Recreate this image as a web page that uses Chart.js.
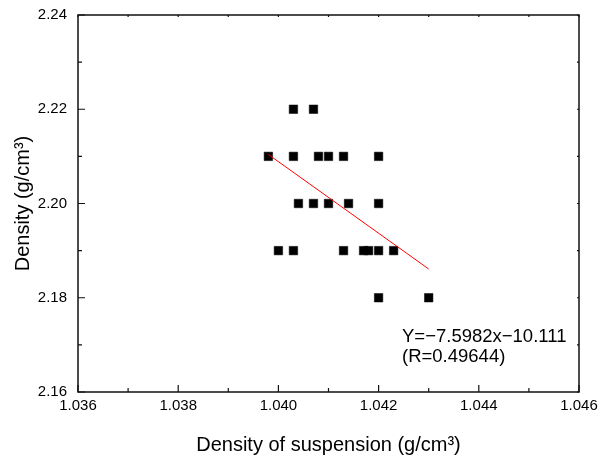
<!DOCTYPE html>
<html>
<head>
<meta charset="utf-8">
<script src="https://cdn.jsdelivr.net/npm/chart.js@4.4.1/dist/chart.umd.min.js"></script>
<style>
  html, body { margin: 0; padding: 0; background: #fff; }
  #wrap { width: 609px; height: 460px; }
</style>
</head>
<body>
<div id="wrap"><canvas id="chart" width="609" height="460"></canvas></div>
<script>
// measured points (density of suspension vs. density)
const suspension = [
    1.0403, 1.0407,
    1.0398, 1.0403, 1.0408, 1.0410, 1.0413, 1.0420,
    1.0404, 1.0407, 1.0410, 1.0414, 1.0420,
    1.0400, 1.0403, 1.0413, 1.0417, 1.0418, 1.0420, 1.0423,
    1.0420, 1.0430
];
const density = [
    2.22, 2.22,
    2.21, 2.21, 2.21, 2.21, 2.21, 2.21,
    2.20, 2.20, 2.20, 2.20, 2.20,
    2.19, 2.19, 2.19, 2.19, 2.19, 2.19, 2.19,
    2.18, 2.18
];

// linear fit end points
const fitX = [1.0398, 1.0430];
const fitY = [2.2104, 2.1861];

// tick labels
const xTicks = [1.036, 1.038, 1.040, 1.042, 1.044, 1.046];
const yTicks = [2.16, 2.18, 2.20, 2.22, 2.24];

const fitText = ['Y=\u22127.5982x\u221210.111', '(R=0.49644)'];

const FONT = "'Liberation Sans', Arial, sans-serif";

// box frame, inward ticks and the fit annotation
const framePlugin = {
    id: 'frame',
    afterDraw(chart) {
        const ctx = chart.ctx;
        const a = chart.chartArea;
        const xs = chart.scales.x, ys = chart.scales.y;
        ctx.save();
        ctx.strokeStyle = '#111';
        ctx.lineWidth = 1.5;
        ctx.strokeRect(a.left, a.top, a.right - a.left, a.bottom - a.top);

        ctx.lineWidth = 1.2;
        ctx.beginPath();
        xTicks.forEach((v, i) => {
            const px = xs.getPixelForValue(v);
            ctx.moveTo(px, a.bottom); ctx.lineTo(px, a.bottom - 7);
            ctx.moveTo(px, a.top); ctx.lineTo(px, a.top + 2);
            if (i < xTicks.length - 1) {
                const mx = xs.getPixelForValue((v + xTicks[i + 1]) / 2);
                ctx.moveTo(mx, a.bottom); ctx.lineTo(mx, a.bottom - 4);
                ctx.moveTo(mx, a.top); ctx.lineTo(mx, a.top + 2);
            }
        });
        yTicks.forEach((v, i) => {
            const py = ys.getPixelForValue(v);
            ctx.moveTo(a.left, py); ctx.lineTo(a.left + 7, py);
            ctx.moveTo(a.right, py); ctx.lineTo(a.right - 2, py);
            if (i < yTicks.length - 1) {
                const my = ys.getPixelForValue((v + yTicks[i + 1]) / 2);
                ctx.moveTo(a.left, my); ctx.lineTo(a.left + 4, my);
                ctx.moveTo(a.right, my); ctx.lineTo(a.right - 2, my);
            }
        });
        ctx.stroke();

        ctx.fillStyle = '#000';
        ctx.font = '18.5px ' + FONT;
        ctx.textAlign = 'left';
        ctx.textBaseline = 'alphabetic';
        ctx.fillText(fitText[0], 402, 342);
        ctx.fillText(fitText[1], 402, 362);
        ctx.restore();
    }
};

new Chart(document.getElementById('chart'), {
    type: 'scatter',
    data: {
        datasets: [{
            type: 'line',
            data: fitX.map((x, i) => ({ x: x, y: fitY[i] })),
            borderColor: '#ff0000',
            borderWidth: 1,
            pointRadius: 0,
            fill: false,
            order: 0
        }, {
            data: suspension.map((x, i) => ({ x: x, y: density[i] })),
            pointStyle: 'rect',
            pointRadius: 6,
            pointBackgroundColor: '#000',
            pointBorderColor: '#000',
            pointBorderWidth: 0.5,
            order: 1
        }]
    },
    options: {
        responsive: false,
        animation: false,
        layout: { padding: { top: 15, right: 30, left: 0, bottom: 0 } },
        plugins: {
            legend: { display: false },
            tooltip: { enabled: false }
        },
        scales: {
            x: {
                type: 'linear',
                min: 1.036,
                max: 1.046,
                afterBuildTicks: s => { s.ticks = xTicks.map(v => ({ value: v })); },
                afterFit: s => { s.height = 68; s.paddingLeft = 0; s.paddingRight = 0; },
                grid: { display: false, drawTicks: false },
                border: { display: false },
                ticks: {
                    padding: 5,
                    color: '#000',
                    font: { family: FONT, size: 15 },
                    callback: v => v.toFixed(3)
                },
                title: {
                    display: true,
                    text: 'Density of suspension (g/cm\u00b3)',
                    color: '#000',
                    font: { family: FONT, size: 20 },
                    padding: { top: 0, bottom: 3 }
                }
            },
            y: {
                type: 'linear',
                min: 2.16,
                max: 2.24,
                afterBuildTicks: s => { s.ticks = yTicks.map(v => ({ value: v })); },
                afterFit: s => { s.width = 78; s.paddingTop = 0; s.paddingBottom = 0; },
                grid: { display: false, drawTicks: false },
                border: { display: false },
                ticks: {
                    padding: 11,
                    color: '#000',
                    font: { family: FONT, size: 15 },
                    callback: v => v.toFixed(2)
                },
                title: {
                    display: true,
                    text: 'Density (g/cm\u00b3)',
                    color: '#000',
                    font: { family: FONT, size: 20 },
                    padding: { top: 11, bottom: 0 }
                }
            }
        }
    },
    plugins: [framePlugin]
});
</script>
</body>
</html>
